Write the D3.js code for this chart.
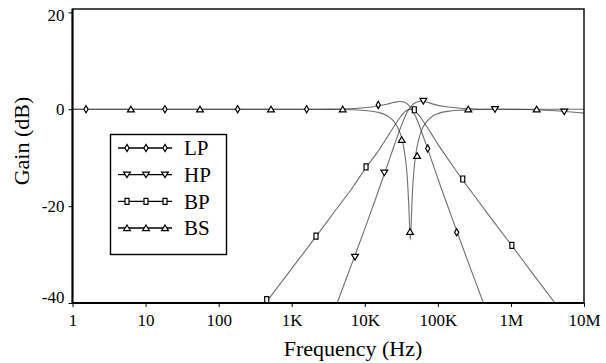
<!DOCTYPE html>
<html>
<head>
<meta charset="utf-8">
<script src="https://cdn.jsdelivr.net/npm/d3@7"></script>
<style>
body{margin:0;background:#fff;}
svg text{font-family:"Liberation Serif","Times New Roman",serif;fill:#000;}
</style>
</head>
<body>
<svg width="606" height="363"></svg>
<script>
// sample frequencies (Hz) and gains (dB)
var freqs=[1,100,300,1000,2000,4000,7000,10000,15000,20000,25000,30000,33000,35000,38000,40000,42000,44000,45000,50000,55000,60000,70000,85000,100000,150000,200000,300000,500000,1e6,2e6,5e6,1e7];
var lpGain=[0,0,0,0,0,0.05,0.15,0.3,0.7,1.05,1.4,1.6,1.55,1.45,1.1,0.8,0.4,0,-0.3,-1.6,-3.1,-4.7,-7.5,-11.2,-14.3,-21.7,-26.9,-34.1,-43,-55,-67,-83,-95];
var hpGain=[-185,-105,-86,-65,-53,-40.8,-31,-24.7,-17.3,-11.9,-7.7,-4.3,-2.7,-1.8,-0.6,0,0.4,0.8,0.95,1.4,1.6,1.7,1.5,1.1,0.8,0.4,0.2,0.1,0,0,-0.1,-0.4,-0.8];
var bpGain=[-93,-52.9,-43.3,-32.9,-26.9,-20.8,-15.9,-12.4,-8.8,-5.9,-3.6,-1.8,-1,-0.6,-0.2,-0.05,0,-0.05,-0.1,-0.55,-1.2,-2,-3.5,-5.5,-7.2,-11.1,-13.8,-17.4,-21.9,-27.9,-34,-41.9,-48];
var bsGain=[0,0,0,0,0,-0.05,-0.1,-0.25,-0.6,-1.3,-2.5,-4.7,-6.8,-8.9,-13.7,-19.8,-27,-20.2,-16.9,-9.2,-6.1,-4.3,-2.6,-1.4,-0.9,-0.35,-0.2,-0.1,0,0,0,0,0];

// marker positions
var lpMarkF=[1.53,18.4,182,1600,15300,72600,181000];
var lpMarkG=[0,0,0,0,0.9,-8.1,-25.4];
var hpMarkF=[7350,18500,63300,605000,5370000];
var hpMarkG=[-30.5,-13.1,1.7,0,-0.5];
var bpMarkF=[455,2150,10400,47600,219000,1030000];
var bpMarkG=[-39.3,-26.2,-11.9,-0.1,-14.4,-28.1];
var bsMarkF=[6.3,55.6,521,4990,32000,41600,52000,261000,2250000];
var bsMarkG=[0,0,0,0,-6.3,-25.3,-9.6,0,0];

var seriesNames=["LP","HP","BP","BS"];
var xTickValues=[1,10,100,1e3,1e4,1e5,1e6,1e7];
var xTickLabels=["1","10","100","1K","10K","100K","1M","10M"];
var yTickValues=[-40,-20,0,20];
var yTickLabels=["-40","-20","0","20"];

var serif='"Liberation Serif","Times New Roman",serif';
var svg=d3.select("svg");
var plotL=72.5,plotR=584,plotT=9,plotB=303;

var x=d3.scaleLog().domain([1,1e7]).range([plotL,plotR]);
var y=d3.scaleLinear().domain([-40,20.7]).range([plotB,plotT]);

svg.append("defs").append("clipPath").attr("id","plotclip")
  .append("rect").attr("x",plotL).attr("y",plotT).attr("width",plotR-plotL).attr("height",plotB-plotT);

// marker shapes
var shapes={
  LP:"M0,-3.6L2.1,0L0,3.6L-2.1,0Z",
  HP:"M-3.4,-2.6L3.4,-2.6L0,3Z",
  BP:"M-2,-3L2,-3L2,3L-2,3Z",
  BS:"M0,-3L3.4,2.6L-3.4,2.6Z"
};

var series=[
  {id:"LP",g:lpGain,mf:lpMarkF,mg:lpMarkG},
  {id:"HP",g:hpGain,mf:hpMarkF,mg:hpMarkG},
  {id:"BP",g:bpGain,mf:bpMarkF,mg:bpMarkG},
  {id:"BS",g:bsGain,mf:bsMarkF,mg:bsMarkG}
];

var line=d3.line()
  .curve(d3.curveMonotoneX)
  .x(function(d){return x(d[0]);})
  .y(function(d){return y(d[1]);});

var plot=svg.append("g").attr("clip-path","url(#plotclip)");

plot.selectAll(".curve")
  .data(series)
  .enter().append("path")
    .attr("class","curve")
    .attr("d",function(s){return line(freqs.map(function(f,i){return [f,s.g[i]];}));})
    .attr("fill","none")
    .attr("stroke","#222")
    .attr("stroke-opacity",0.65)
    .attr("stroke-width",1.1);

series.forEach(function(s){
  plot.selectAll(".m"+s.id)
    .data(s.mf.map(function(f,i){return [f,s.mg[i]];}))
    .enter().append("path")
      .attr("class","m"+s.id)
      .attr("transform",function(d){return "translate("+x(d[0])+","+y(d[1])+")";})
      .attr("d",shapes[s.id])
      .attr("fill","#fff")
      .attr("stroke","#000")
      .attr("stroke-width",1.2);
});

// frame
svg.append("rect").attr("x",plotL).attr("y",plotT).attr("width",plotR-plotL).attr("height",plotB-plotT)
  .attr("fill","none").attr("stroke","#000").attr("stroke-width",1.4);
svg.append("line").attr("x1",plotL).attr("x2",plotL).attr("y1",plotT).attr("y2",plotB+1)
  .attr("stroke","#000").attr("stroke-width",2);
svg.append("line").attr("x1",plotL).attr("x2",plotR).attr("y1",plotB).attr("y2",plotB)
  .attr("stroke","#000").attr("stroke-width",2);

// axes
var xAxis=svg.append("g").attr("transform","translate(0,"+plotB+")")
  .call(d3.axisBottom(x).tickValues(xTickValues).tickSize(4)
    .tickFormat(function(d,i){return xTickLabels[i];}));
xAxis.attr("font-family",serif).attr("font-size",17);
xAxis.select(".domain").remove();
xAxis.selectAll("text").attr("y",11);

var yAxis=svg.append("g").attr("transform","translate("+plotL+",0)")
  .call(d3.axisLeft(y).tickValues(yTickValues).tickSize(4)
    .tickFormat(function(d,i){return yTickLabels[i];}));
yAxis.attr("font-family",serif).attr("font-size",17);
yAxis.select(".domain").remove();
yAxis.selectAll("text").attr("x",-8)
  .attr("dy",function(d){return d==-40?"-0.05em":(d==20?"0.5em":"0.32em");});

svg.append("text").attr("x",353).attr("y",356).attr("text-anchor","middle")
  .attr("font-family",serif).attr("font-size",22).text("Frequency (Hz)");
svg.append("text").attr("transform","translate(29,141) rotate(-90)").attr("text-anchor","middle")
  .attr("font-family",serif).attr("font-size",22).text("Gain (dB)");

// legend
var lg=svg.append("g");
lg.append("rect").attr("x",110.5).attr("y",134.5).attr("width",116).attr("height",120)
  .attr("fill","#fff").attr("stroke","#000").attr("stroke-width",1.4);
var rowY=d3.scalePoint().domain(seriesNames).range([148,228]);
var markX=[127,146,165];
seriesNames.forEach(function(n){
  var ry=rowY(n);
  lg.append("line").attr("x1",118).attr("x2",172).attr("y1",ry).attr("y2",ry)
    .attr("stroke","#000").attr("stroke-width",1.4);
  markX.forEach(function(mx){
    lg.append("path").attr("transform","translate("+mx+","+ry+")").attr("d",shapes[n])
      .attr("fill","#fff").attr("stroke","#000").attr("stroke-width",1.2);
  });
  lg.append("text").attr("x",184).attr("y",ry).attr("dy","0.35em")
    .attr("font-family",serif).attr("font-size",21).text(n);
});
</script>
</body>
</html>
